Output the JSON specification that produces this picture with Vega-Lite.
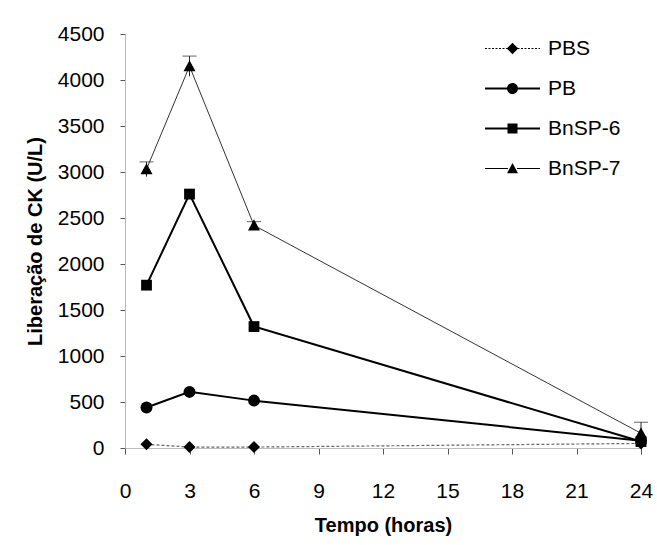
{
  "$schema": "https://vega.github.io/schema/vega-lite/v6.json",
  "width": 516,
  "height": 414,
  "autosize": "none",
  "padding": {"left": 125, "top": 34, "right": 16, "bottom": 97},
  "background": "white",
  "config": {
    "view": {"stroke": null},
    "font": "Liberation Sans",
    "axis": {"grid": false, "labelFont": "Liberation Sans", "titleFont": "Liberation Sans", "labelColor": "#000", "titleColor": "#000", "domainColor": "#bbb", "tickColor": "#555", "labelFlush": false}
  },
  "data": {"values": [
    {"series": "PBS", "t": 1, "value": 40},
    {"series": "PBS", "t": 3, "value": 10},
    {"series": "PBS", "t": 6, "value": 10},
    {"series": "PBS", "t": 24, "value": 50},
    {"series": "PB", "t": 1, "value": 440},
    {"series": "PB", "t": 3, "value": 610},
    {"series": "PB", "t": 6, "value": 515},
    {"series": "PB", "t": 24, "value": 80},
    {"series": "BnSP-6", "t": 1, "value": 1770},
    {"series": "BnSP-6", "t": 3, "value": 2760},
    {"series": "BnSP-6", "t": 6, "value": 1320},
    {"series": "BnSP-6", "t": 24, "value": 70},
    {"series": "BnSP-7", "t": 1, "value": 3030, "lo": 2950, "hi": 3110},
    {"series": "BnSP-7", "t": 3, "value": 4150, "lo": 4040, "hi": 4260},
    {"series": "BnSP-7", "t": 6, "value": 2420, "lo": 2380, "hi": 2460},
    {"series": "BnSP-7", "t": 24, "value": 160, "lo": 40, "hi": 280}
  ]},
  "encoding": {
    "x": {"field": "t", "type": "quantitative", "scale": {"domain": [0, 24], "nice": false},
      "axis": {"values": [0, 3, 6, 9, 12, 15, 18, 21, 24], "title": "Tempo (horas)", "labelFontSize": 21, "titleFontSize": 20, "titleFontWeight": "bold", "tickSize": 6, "labelPadding": 26, "titlePadding": 14}}
  },
  "resolve": {"scale": {"shape": "independent"}, "legend": {"shape": "independent"}},
  "layer": [
    {
      "transform": [{"filter": "datum.hi != null"}],
      "mark": {"type": "rule", "color": "#222", "strokeWidth": 1},
      "encoding": {"y": {"field": "lo", "type": "quantitative"}, "y2": {"field": "hi"}}
    },
    {
      "transform": [{"filter": "datum.hi != null"}],
      "mark": {"type": "tick", "orient": "horizontal", "color": "#222", "size": 14, "thickness": 1},
      "encoding": {"y": {"field": "hi", "type": "quantitative"}}
    },
    {
      "transform": [{"filter": "datum.series === 'PBS'"}],
      "mark": {"type": "line", "color": "#666", "strokeWidth": 1.2, "strokeDash": [3, 2]},
      "encoding": {
        "y": {"field": "value", "type": "quantitative", "scale": {"domain": [0, 4500], "nice": false},
          "axis": {"values": [0, 500, 1000, 1500, 2000, 2500, 3000, 3500, 4000, 4500], "format": "d", "title": "Liberação de CK (U/L)", "labelFontSize": 21, "titleFontSize": 20, "titleFontWeight": "bold", "tickSize": 5, "labelPadding": 16, "titlePadding": 12}}
      }
    },
    {
      "transform": [{"filter": "datum.series === 'PB' || datum.series === 'BnSP-6'"}],
      "mark": {"type": "line", "color": "#000", "strokeWidth": 2},
      "encoding": {
        "y": {"field": "value", "type": "quantitative"},
        "detail": {"field": "series", "type": "nominal"}
      }
    },
    {
      "transform": [{"filter": "datum.series === 'BnSP-7'"}],
      "mark": {"type": "line", "color": "#333", "strokeWidth": 1},
      "encoding": {
        "y": {"field": "value", "type": "quantitative"}
      }
    },
    {
      "mark": {"type": "point", "filled": true, "color": "#000", "opacity": 1, "size": 144},
      "encoding": {
        "y": {"field": "value", "type": "quantitative"},
        "shape": {"field": "series", "type": "nominal",
          "scale": {"domain": ["PBS", "PB", "BnSP-6", "BnSP-7"], "range": ["M0,-1L1,0L0,1L-1,0Z", "circle", "M-0.9,-0.9H0.9V0.9H-0.9Z", "M0,-1L1,0.85H-1Z"]},
          "legend": null
        }
      }
    },
    {
      "mark": {"type": "point", "filled": true, "color": "#000", "opacity": 0, "size": 100},
      "encoding": {
        "y": {"field": "value", "type": "quantitative"},
        "shape": {"field": "series", "type": "nominal",
          "scale": {"domain": ["PBS", "PB", "BnSP-6", "BnSP-7"], "range": [
            "M-5.5,-0.1H-5.1V0.1H-5.5ZM-4.8,-0.1H-4.4V0.1H-4.8ZM-4.1,-0.1H-3.7V0.1H-4.1ZM-3.4,-0.1H-3V0.1H-3.4ZM-2.7,-0.1H-2.3V0.1H-2.7ZM-2,-0.1H-1.6V0.1H-2ZM-1.3,-0.1H-0.9V0.1H-1.3ZM1,-0.1H1.4V0.1H1ZM1.7,-0.1H2.1V0.1H1.7ZM2.4,-0.1H2.8V0.1H2.4ZM3.1,-0.1H3.5V0.1H3.1ZM3.8,-0.1H4.2V0.1H3.8ZM4.5,-0.1H4.9V0.1H4.5ZM5.2,-0.1H5.5V0.1H5.2ZM0,-1.15L1.15,0L0,1.15L-1.15,0Z",
            "M-5.5,-0.18H-0.9V0.18H-5.5ZM0.9,-0.18H5.5V0.18H0.9ZM-1.1,0A1.1,1.1 0 1,1 1.1,0A1.1,1.1 0 1,1 -1.1,0Z",
            "M-5.5,-0.18H-0.9V0.18H-5.5ZM0.9,-0.18H5.5V0.18H0.9ZM-1,-1H1V1H-1Z",
            "M-5.5,-0.1H-0.9V0.1H-5.5ZM0.9,-0.1H5.5V0.1H0.9ZM0,-1.1L1.1,0.95H-1.1Z"
          ]},
          "legend": {
            "title": null, "orient": "none", "legendX": 377, "legendY": 4, "labelFontSize": 21, "labelFont": "Liberation Sans", "labelColor": "#000",
            "labelOffset": 25, "rowPadding": 18, "symbolSize": 100, "symbolOpacity": 1, "symbolFillColor": "#000"
          }
        }
      }
    }
  ]
}
